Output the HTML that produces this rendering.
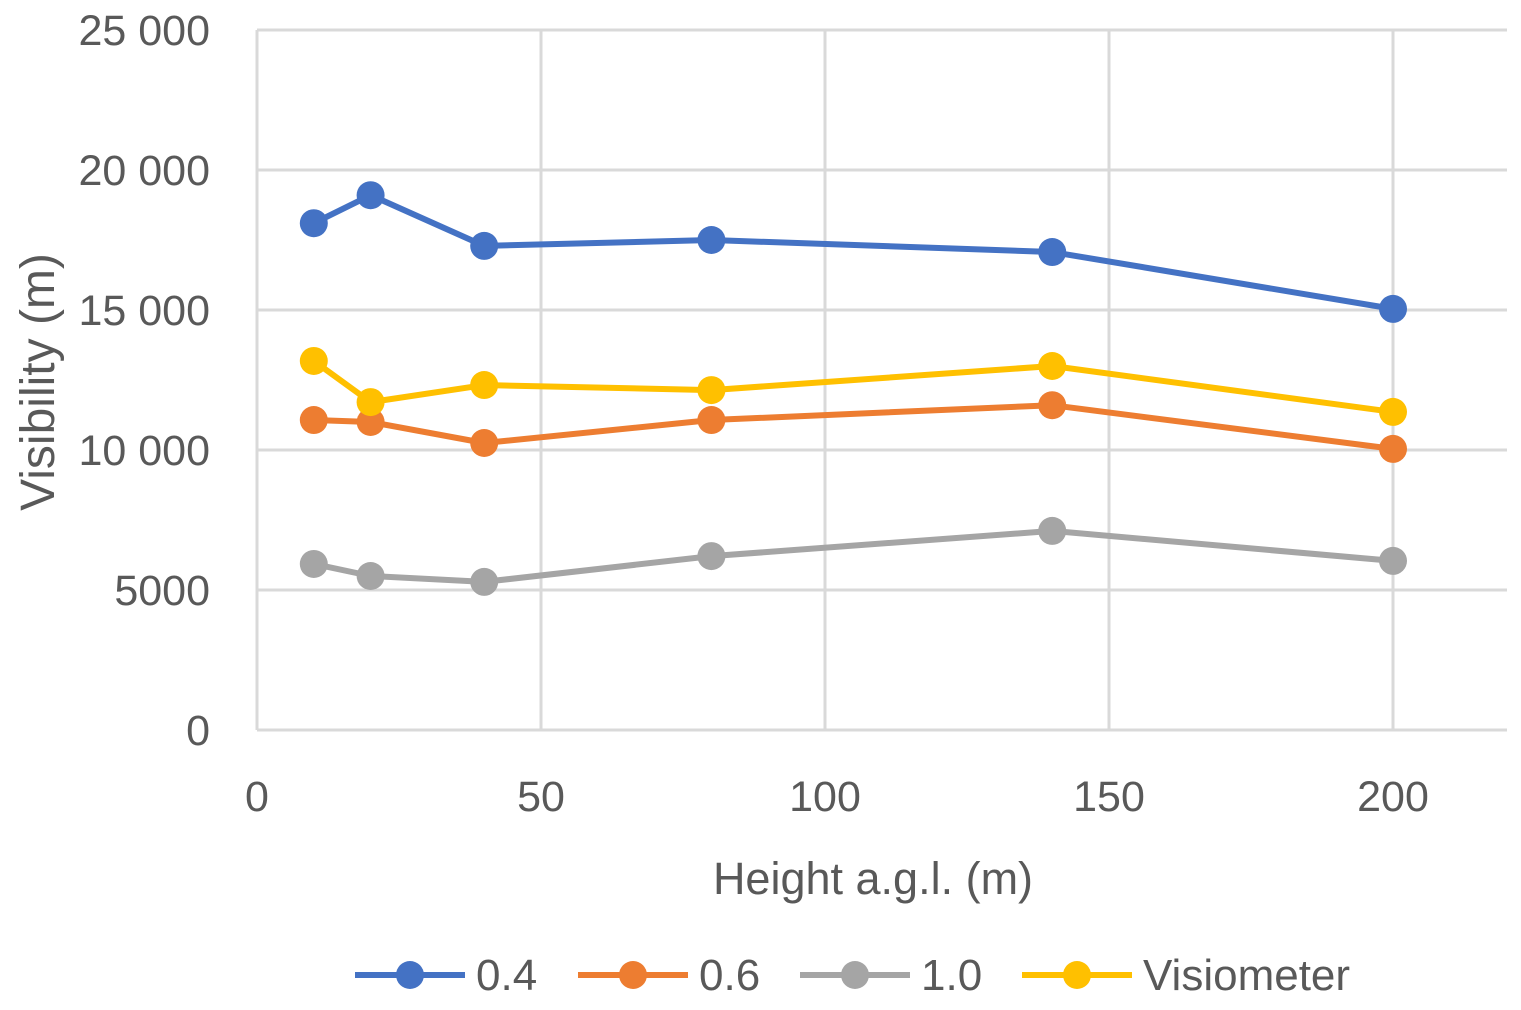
<!DOCTYPE html>
<html><head><meta charset="utf-8"><style>
body{margin:0;background:#fff}
svg text{font-family:"Liberation Sans",sans-serif;fill:#595959}
</style></head><body>
<svg id="chart" width="1521" height="1005" xmlns="http://www.w3.org/2000/svg">
<g id="grid"></g>
<g id="ticks"></g>
<g id="series"></g>
<text transform="translate(54,382) rotate(-90)" text-anchor="middle" font-size="48">Visibility (m)</text>
<text x="873" y="894" text-anchor="middle" font-size="45">Height a.g.l. (m)</text>
<g id="legend"></g>
</svg>
<script>
const heights=[10,20,40,80,140,200];
const s04=[18100,19100,17290,17500,17070,15040];
const s06=[11070,11000,10250,11070,11600,10040];
const s10=[5930,5500,5290,6210,7110,6040];
const sVis=[13180,11710,12320,12140,13000,11360];
const seriesNames=["0.4","0.6","1.0","Visiometer"];
const yTicks=[0,5000,10000,15000,20000,25000];
const yTickLabels=["0","5000","10 000","15 000","20 000","25 000"];
const xTicks=[0,50,100,150,200];
const colors=["#4472c4","#ed7d31","#a5a5a5","#ffc000"];
const NS="http://www.w3.org/2000/svg";
const X=v=>257+v*5.68, Y=v=>730-v*0.028;
function mk(t,a,p){const e=document.createElementNS(NS,t);for(const k in a)e.setAttribute(k,a[k]);p.appendChild(e);return e;}
const grid=document.getElementById('grid'),ticks=document.getElementById('ticks');
yTicks.forEach((v,i)=>{
 const l=mk('line',{x1:257,x2:1507,y1:Y(v),y2:Y(v),stroke:'#d9d9d9','stroke-width':3},grid);
 
 
 const t=mk('text',{x:210,y:Y(v)+15,'text-anchor':'end','font-size':43},ticks);
 t.textContent=yTickLabels[i];
 
 
});
xTicks.forEach(v=>{
 const l=mk('line',{x1:X(v),x2:X(v),y1:30,y2:730,stroke:'#d9d9d9','stroke-width':3},grid);
 
 
 const t=mk('text',{x:X(v),y:811,'text-anchor':'middle','font-size':43},ticks);
 t.textContent=v;
 
 
});
const ser=document.getElementById('series');
[s04,s06,s10,sVis].forEach((d,i)=>{
 const g=mk('g',{},ser);
 
 
 const p=mk('polyline',{points:d.map((v,j)=>X(heights[j])+','+Y(v)).join(' '),fill:'none',stroke:colors[i],'stroke-width':6,'stroke-linejoin':'round'},g);
 
 
 d.forEach((v,j)=>{
  const c=mk('circle',{cx:X(heights[j]),cy:Y(v),r:14,fill:colors[i]},g);
  
  
 });
});
const leg=document.getElementById('legend');
const lx=[355,578,800,1022];
seriesNames.forEach((n,i)=>{
 const g=mk('g',{},leg);
 
 
 mk('line',{x1:lx[i],x2:lx[i]+110,y1:975,y2:975,stroke:colors[i],'stroke-width':6},g);
 mk('circle',{cx:lx[i]+55,cy:975,r:14,fill:colors[i]},g);
 const t=mk('text',{x:lx[i]+121,y:990,'font-size':44},g);
 t.textContent=n;
});
</script>
</body></html>
